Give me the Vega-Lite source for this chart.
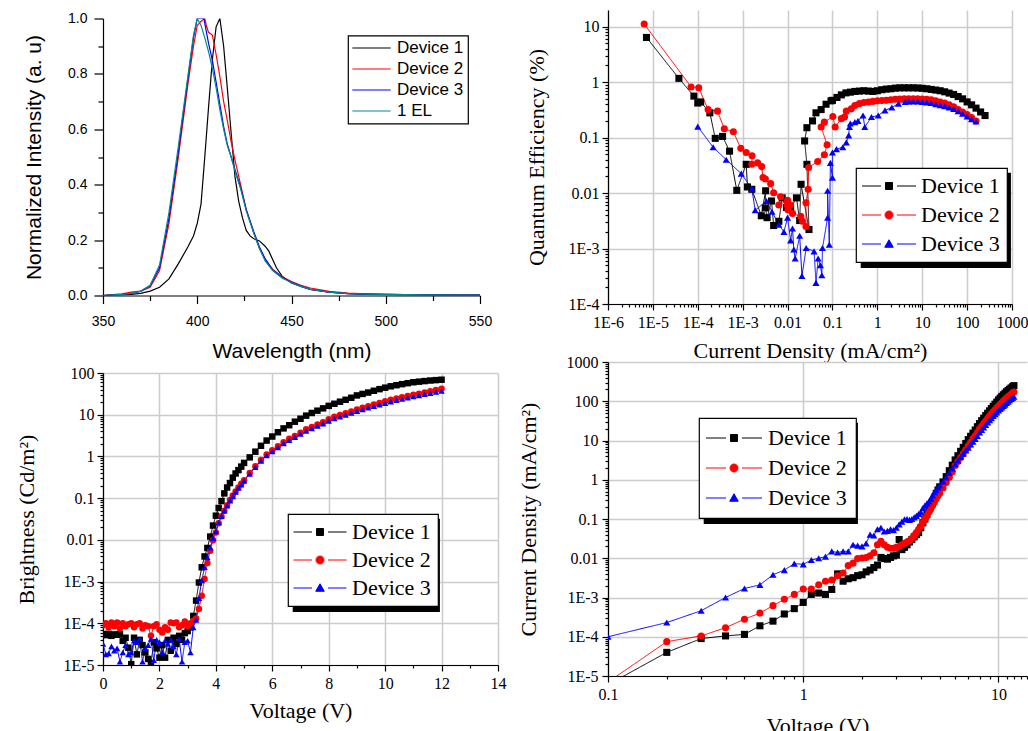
{
"$schema": "https://vega.github.io/schema/vega-lite/v6.json",
"background": "white",
"padding": {"left": 15, "top": 10, "right": 0, "bottom": 0},
"spacing": -12,
"resolve": {"scale": {"color": "independent", "strokeDash": "independent"}, "legend": {"color": "independent", "strokeDash": "independent"}},
"config": {
  "view": {"stroke": null},
  "axis": {"domainColor": "black", "tickColor": "black", "labelColor": "black", "titleColor": "black", "titleFontWeight": "normal", "gridColor": "#cccccc", "gridWidth": 1.5, "labelFlush": false, "labelOverlap": false, "labelFont": "Liberation Serif", "titleFont": "Liberation Serif", "labelFontSize": 16, "titleFontSize": 22, "domainWidth": 1.2, "tickWidth": 1.2, "titleBaseline": "middle", "titleAlign": "center"},
  "legend": {"strokeWidth": 1.2}
},
"datasets": {
"d1": [
{"s":1,"x":350,"y":0},{"s":1,"x":355,"y":0.001},{"s":1,"x":360,"y":0.002},{"s":1,"x":365,"y":0.004},{"s":1,"x":370,"y":0.008},{"s":1,"x":375,"y":0.016},{"s":1,"x":380,"y":0.03},{"s":1,"x":385,"y":0.06},{"s":1,"x":390,"y":0.115},{"s":1,"x":395,"y":0.175},{"s":1,"x":398,"y":0.215},{"s":1,"x":400,"y":0.26},{"s":1,"x":402,"y":0.33},{"s":1,"x":404,"y":0.5},{"s":1,"x":406,"y":0.68},{"s":1,"x":408,"y":0.85},{"s":1,"x":410,"y":0.97},{"s":1,"x":412,"y":1},{"s":1,"x":414,"y":0.9},{"s":1,"x":416,"y":0.745},{"s":1,"x":418,"y":0.585},{"s":1,"x":420,"y":0.43},{"s":1,"x":422,"y":0.34},{"s":1,"x":424,"y":0.28},{"s":1,"x":426,"y":0.235},{"s":1,"x":428,"y":0.215},{"s":1,"x":430,"y":0.205},{"s":1,"x":433,"y":0.197},{"s":1,"x":436,"y":0.178},{"s":1,"x":438,"y":0.16},{"s":1,"x":440,"y":0.13},{"s":1,"x":442,"y":0.1},{"s":1,"x":445,"y":0.07},{"s":1,"x":450,"y":0.045},{"s":1,"x":455,"y":0.033},{"s":1,"x":460,"y":0.022},{"s":1,"x":470,"y":0.012},{"s":1,"x":480,"y":0.007},{"s":1,"x":490,"y":0.004},{"s":1,"x":500,"y":0.003},{"s":1,"x":520,"y":0.002},{"s":1,"x":550,"y":0.001},
{"s":2,"x":350,"y":0},{"s":2,"x":355,"y":0.003},{"s":2,"x":360,"y":0.006},{"s":2,"x":365,"y":0.012},{"s":2,"x":370,"y":0.016},{"s":2,"x":375,"y":0.03},{"s":2,"x":380,"y":0.09},{"s":2,"x":385,"y":0.26},{"s":2,"x":390,"y":0.5},{"s":2,"x":395,"y":0.76},{"s":2,"x":398,"y":0.9},{"s":2,"x":400,"y":0.975},{"s":2,"x":402,"y":0.99},{"s":2,"x":404,"y":1},{"s":2,"x":405,"y":0.97},{"s":2,"x":406,"y":0.95},{"s":2,"x":408,"y":0.94},{"s":2,"x":410,"y":0.87},{"s":2,"x":412,"y":0.79},{"s":2,"x":414,"y":0.7},{"s":2,"x":416,"y":0.63},{"s":2,"x":418,"y":0.555},{"s":2,"x":420,"y":0.49},{"s":2,"x":423,"y":0.4},{"s":2,"x":426,"y":0.31},{"s":2,"x":430,"y":0.225},{"s":2,"x":433,"y":0.17},{"s":2,"x":436,"y":0.13},{"s":2,"x":440,"y":0.095},{"s":2,"x":445,"y":0.068},{"s":2,"x":450,"y":0.05},{"s":2,"x":455,"y":0.037},{"s":2,"x":460,"y":0.027},{"s":2,"x":470,"y":0.015},{"s":2,"x":480,"y":0.009},{"s":2,"x":490,"y":0.006},{"s":2,"x":500,"y":0.004},{"s":2,"x":520,"y":0.002},{"s":2,"x":550,"y":0.001},
{"s":3,"x":350,"y":0},{"s":3,"x":355,"y":0.002},{"s":3,"x":360,"y":0.004},{"s":3,"x":365,"y":0.008},{"s":3,"x":370,"y":0.015},{"s":3,"x":375,"y":0.035},{"s":3,"x":380,"y":0.1},{"s":3,"x":385,"y":0.28},{"s":3,"x":390,"y":0.52},{"s":3,"x":395,"y":0.78},{"s":3,"x":398,"y":0.93},{"s":3,"x":400,"y":1},{"s":3,"x":402,"y":1},{"s":3,"x":403.5,"y":1},{"s":3,"x":406,"y":0.91},{"s":3,"x":408,"y":0.85},{"s":3,"x":410,"y":0.77},{"s":3,"x":412,"y":0.69},{"s":3,"x":414,"y":0.61},{"s":3,"x":416,"y":0.545},{"s":3,"x":418,"y":0.5},{"s":3,"x":420,"y":0.455},{"s":3,"x":423,"y":0.39},{"s":3,"x":426,"y":0.31},{"s":3,"x":430,"y":0.23},{"s":3,"x":433,"y":0.175},{"s":3,"x":436,"y":0.133},{"s":3,"x":440,"y":0.092},{"s":3,"x":445,"y":0.065},{"s":3,"x":450,"y":0.048},{"s":3,"x":455,"y":0.034},{"s":3,"x":460,"y":0.022},{"s":3,"x":470,"y":0.012},{"s":3,"x":480,"y":0.007},{"s":3,"x":490,"y":0.005},{"s":3,"x":500,"y":0.004},{"s":3,"x":520,"y":0.002},{"s":3,"x":550,"y":0.001},
{"s":4,"x":350,"y":0},{"s":4,"x":355,"y":0.002},{"s":4,"x":360,"y":0.004},{"s":4,"x":365,"y":0.008},{"s":4,"x":370,"y":0.016},{"s":4,"x":375,"y":0.037},{"s":4,"x":380,"y":0.11},{"s":4,"x":385,"y":0.3},{"s":4,"x":390,"y":0.54},{"s":4,"x":395,"y":0.79},{"s":4,"x":398,"y":0.94},{"s":4,"x":400,"y":1},{"s":4,"x":402,"y":0.975},{"s":4,"x":404,"y":0.93},{"s":4,"x":406,"y":0.88},{"s":4,"x":408,"y":0.82},{"s":4,"x":410,"y":0.75},{"s":4,"x":412,"y":0.67},{"s":4,"x":414,"y":0.6},{"s":4,"x":416,"y":0.54},{"s":4,"x":418,"y":0.5},{"s":4,"x":420,"y":0.45},{"s":4,"x":423,"y":0.385},{"s":4,"x":426,"y":0.305},{"s":4,"x":430,"y":0.225},{"s":4,"x":433,"y":0.17},{"s":4,"x":436,"y":0.125},{"s":4,"x":440,"y":0.09},{"s":4,"x":445,"y":0.063},{"s":4,"x":450,"y":0.046},{"s":4,"x":455,"y":0.033},{"s":4,"x":460,"y":0.022},{"s":4,"x":470,"y":0.012},{"s":4,"x":480,"y":0.007},{"s":4,"x":490,"y":0.005},{"s":4,"x":500,"y":0.004},{"s":4,"x":520,"y":0.002},{"s":4,"x":550,"y":0.001}
],
"d2": [
{"s":1,"x":7.2e-6,"y":6.4},{"s":1,"x":3.8e-5,"y":1.17},{"s":1,"x":8.2e-5,"y":0.56},{"s":1,"x":1.0e-4,"y":0.42},{"s":1,"x":1.16e-4,"y":0.44},{"s":1,"x":1.86e-4,"y":0.28},{"s":1,"x":2.45e-4,"y":0.097},{"s":1,"x":3.57e-4,"y":0.105},{"s":1,"x":5.1e-4,"y":0.057},{"s":1,"x":7.4e-4,"y":0.0112},{"s":1,"x":1.2e-3,"y":0.033},{"s":1,"x":1.28e-3,"y":0.0129},{"s":1,"x":1.6e-3,"y":0.0117},{"s":1,"x":2.6e-3,"y":0.0039},{"s":1,"x":3.25e-3,"y":0.011},{"s":1,"x":3.2e-3,"y":0.0054},{"s":1,"x":3.5e-3,"y":0.0036},{"s":1,"x":4.4e-3,"y":0.0072},{"s":1,"x":4.9e-3,"y":0.0026},{"s":1,"x":6.4e-3,"y":0.0031},{"s":1,"x":7.6e-3,"y":0.0082},{"s":1,"x":0.0095,"y":0.0055},{"s":1,"x":0.0117,"y":0.0054},{"s":1,"x":0.0158,"y":0.0082},{"s":1,"x":0.0186,"y":0.0032},{"s":1,"x":0.02,"y":0.0144},{"s":1,"x":0.03,"y":0.0022},{"s":1,"x":0.027,"y":0.033},{"s":1,"x":0.024,"y":0.087},{"s":1,"x":0.027,"y":0.151},{"s":1,"x":0.036,"y":0.2},{"s":1,"x":0.043,"y":0.28},{"s":1,"x":0.056,"y":0.32},{"s":1,"x":0.072,"y":0.4},{"s":1,"x":0.093,"y":0.46},{"s":1,"x":0.1,"y":0.47},{"s":1,"x":0.126,"y":0.53},{"s":1,"x":0.158,"y":0.59},{"s":1,"x":0.2,"y":0.64},{"s":1,"x":0.251,"y":0.66},{"s":1,"x":0.316,"y":0.68},{"s":1,"x":0.398,"y":0.69},{"s":1,"x":0.501,"y":0.7},{"s":1,"x":0.631,"y":0.69},{"s":1,"x":0.794,"y":0.68},{"s":1,"x":1,"y":0.7},{"s":1,"x":1.26,"y":0.73},{"s":1,"x":1.58,"y":0.75},{"s":1,"x":2,"y":0.76},{"s":1,"x":2.51,"y":0.78},{"s":1,"x":3.16,"y":0.79},{"s":1,"x":3.98,"y":0.79},{"s":1,"x":5.01,"y":0.79},{"s":1,"x":6.31,"y":0.79},{"s":1,"x":7.94,"y":0.785},{"s":1,"x":10,"y":0.775},{"s":1,"x":12.6,"y":0.76},{"s":1,"x":15.8,"y":0.74},{"s":1,"x":20,"y":0.72},{"s":1,"x":25.1,"y":0.7},{"s":1,"x":31.6,"y":0.67},{"s":1,"x":39.8,"y":0.635},{"s":1,"x":50.1,"y":0.6},{"s":1,"x":63.1,"y":0.55},{"s":1,"x":79.4,"y":0.5},{"s":1,"x":100,"y":0.44},{"s":1,"x":126,"y":0.39},{"s":1,"x":158,"y":0.34},{"s":1,"x":200,"y":0.29},{"s":1,"x":251,"y":0.25},
{"s":2,"x":6.4e-6,"y":11.2},{"s":2,"x":7.1e-5,"y":0.82},{"s":2,"x":1.05e-4,"y":0.79},{"s":2,"x":1.7e-4,"y":0.32},{"s":2,"x":2.75e-4,"y":0.3},{"s":2,"x":3.9e-4,"y":0.144},{"s":2,"x":6.2e-4,"y":0.128},{"s":2,"x":9.1e-4,"y":0.064},{"s":2,"x":1.2e-3,"y":0.054},{"s":2,"x":1.62e-3,"y":0.047},{"s":2,"x":1.6e-3,"y":0.033},{"s":2,"x":2.15e-3,"y":0.035},{"s":2,"x":2.65e-3,"y":0.03},{"s":2,"x":2.84e-3,"y":0.019},{"s":2,"x":3.2e-3,"y":0.018},{"s":2,"x":4.2e-3,"y":0.0148},{"s":2,"x":4.9e-3,"y":0.0101},{"s":2,"x":7.0e-3,"y":0.0086},{"s":2,"x":6.4e-3,"y":0.0061},{"s":2,"x":0.01,"y":0.0074},{"s":2,"x":0.0098,"y":0.0061},{"s":2,"x":0.0102,"y":0.005},{"s":2,"x":0.0117,"y":0.0061},{"s":2,"x":0.0129,"y":0.0043},{"s":2,"x":0.0197,"y":0.0038},{"s":2,"x":0.0214,"y":0.0031},{"s":2,"x":0.0257,"y":0.0025},{"s":2,"x":0.0257,"y":0.0067},{"s":2,"x":0.0288,"y":0.0117},{"s":2,"x":0.0295,"y":0.029},{"s":2,"x":0.047,"y":0.037},{"s":2,"x":0.066,"y":0.049},{"s":2,"x":0.076,"y":0.074},{"s":2,"x":0.056,"y":0.155},{"s":2,"x":0.066,"y":0.19},{"s":2,"x":0.102,"y":0.24},{"s":2,"x":0.115,"y":0.155},{"s":2,"x":0.158,"y":0.22},{"s":2,"x":0.186,"y":0.235},{"s":2,"x":0.204,"y":0.3},{"s":2,"x":0.263,"y":0.33},{"s":2,"x":0.316,"y":0.38},{"s":2,"x":0.398,"y":0.41},{"s":2,"x":0.501,"y":0.43},{"s":2,"x":0.631,"y":0.44},{"s":2,"x":0.794,"y":0.45},{"s":2,"x":1,"y":0.46},{"s":2,"x":1.26,"y":0.465},{"s":2,"x":1.58,"y":0.47},{"s":2,"x":2,"y":0.48},{"s":2,"x":2.51,"y":0.49},{"s":2,"x":3.16,"y":0.495},{"s":2,"x":3.98,"y":0.5},{"s":2,"x":5.01,"y":0.5},{"s":2,"x":6.31,"y":0.5},{"s":2,"x":7.94,"y":0.5},{"s":2,"x":10,"y":0.495},{"s":2,"x":12.6,"y":0.49},{"s":2,"x":15.8,"y":0.48},{"s":2,"x":20,"y":0.46},{"s":2,"x":25.1,"y":0.44},{"s":2,"x":31.6,"y":0.42},{"s":2,"x":39.8,"y":0.39},{"s":2,"x":50.1,"y":0.36},{"s":2,"x":63.1,"y":0.32},{"s":2,"x":79.4,"y":0.29},{"s":2,"x":100,"y":0.26},{"s":2,"x":126,"y":0.23},{"s":2,"x":158,"y":0.2},
{"s":3,"x":1.0e-4,"y":0.158},{"s":3,"x":2.2e-4,"y":0.067},{"s":3,"x":4.3e-4,"y":0.04},{"s":3,"x":9.3e-4,"y":0.0224},{"s":3,"x":1.6e-3,"y":0.012},{"s":3,"x":1.9e-3,"y":0.0049},{"s":3,"x":3.4e-3,"y":0.0072},{"s":3,"x":4.5e-3,"y":0.0046},{"s":3,"x":6.4e-3,"y":0.0027},{"s":3,"x":8.3e-3,"y":0.002},{"s":3,"x":0.01,"y":0.0036},{"s":3,"x":0.0117,"y":0.0014},{"s":3,"x":0.0129,"y":0.0023},{"s":3,"x":0.0138,"y":0.00096},{"s":3,"x":0.0148,"y":0.00066},{"s":3,"x":0.0186,"y":0.0017},{"s":3,"x":0.0209,"y":0.00032},{"s":3,"x":0.026,"y":0.00102},{"s":3,"x":0.039,"y":0.00089},{"s":3,"x":0.043,"y":0.00024},{"s":3,"x":0.048,"y":0.00066},{"s":3,"x":0.054,"y":0.0005},{"s":3,"x":0.058,"y":0.00033},{"s":3,"x":0.06,"y":0.00102},{"s":3,"x":0.078,"y":0.0036},{"s":3,"x":0.078,"y":0.011},{"s":3,"x":0.085,"y":0.00117},{"s":3,"x":0.09,"y":0.035},{"s":3,"x":0.1,"y":0.019},{"s":3,"x":0.1,"y":0.054},{"s":3,"x":0.123,"y":0.062},{"s":3,"x":0.17,"y":0.067},{"s":3,"x":0.204,"y":0.082},{"s":3,"x":0.23,"y":0.11},{"s":3,"x":0.24,"y":0.155},{"s":3,"x":0.25,"y":0.18},{"s":3,"x":0.316,"y":0.19},{"s":3,"x":0.37,"y":0.2},{"s":3,"x":0.48,"y":0.25},{"s":3,"x":0.525,"y":0.155},{"s":3,"x":0.74,"y":0.235},{"s":3,"x":1.05,"y":0.25},{"s":3,"x":1.48,"y":0.31},{"s":3,"x":2.1,"y":0.35},{"s":3,"x":2.95,"y":0.41},{"s":3,"x":4.2,"y":0.44},{"s":3,"x":5.01,"y":0.45},{"s":3,"x":6.31,"y":0.45},{"s":3,"x":7.94,"y":0.45},{"s":3,"x":10,"y":0.44},{"s":3,"x":12.6,"y":0.43},{"s":3,"x":15.8,"y":0.42},{"s":3,"x":20,"y":0.4},{"s":3,"x":25.1,"y":0.385},{"s":3,"x":31.6,"y":0.37},{"s":3,"x":39.8,"y":0.35},{"s":3,"x":50.1,"y":0.33},{"s":3,"x":63.1,"y":0.3},{"s":3,"x":79.4,"y":0.27},{"s":3,"x":100,"y":0.24},{"s":3,"x":126,"y":0.215},{"s":3,"x":158,"y":0.195}
],
"d3": [
{"s":1,"x":0,"y":5.5e-5},{"s":1,"x":0.1,"y":5.2e-5},{"s":1,"x":0.2,"y":5.6e-5},{"s":1,"x":0.3,"y":5e-5},{"s":1,"x":0.4,"y":5.4e-5},{"s":1,"x":0.5,"y":5.3e-5},{"s":1,"x":0.6,"y":5.5e-5},{"s":1,"x":0.7,"y":3.8e-5},{"s":1,"x":0.8,"y":4.5e-5},{"s":1,"x":0.9,"y":2.6e-5},{"s":1,"x":1,"y":1.05e-5},{"s":1,"x":1.1,"y":4.5e-5},{"s":1,"x":1.2,"y":1.8e-5},{"s":1,"x":1.3,"y":4e-5},{"s":1,"x":1.4,"y":3e-5},{"s":1,"x":1.5,"y":2e-5},{"s":1,"x":1.6,"y":1.4e-5},{"s":1,"x":1.7,"y":1.1e-5},{"s":1,"x":1.8,"y":3.5e-5},{"s":1,"x":1.9,"y":2.5e-5},{"s":1,"x":2,"y":1.5e-5},{"s":1,"x":2.1,"y":3e-5},{"s":1,"x":2.2,"y":1.5e-5},{"s":1,"x":2.3,"y":4e-5},{"s":1,"x":2.4,"y":2.2e-5},{"s":1,"x":2.5,"y":4.5e-5},{"s":1,"x":2.6,"y":3.2e-5},{"s":1,"x":2.7,"y":5e-5},{"s":1,"x":2.8,"y":4e-5},{"s":1,"x":2.9,"y":5.8e-5},{"s":1,"x":3,"y":6.5e-5},{"s":1,"x":3.1,"y":8e-5},{"s":1,"x":3.2,"y":1.5e-4},{"s":1,"x":3.3,"y":3.5e-4},{"s":1,"x":3.4,"y":9.5e-4},{"s":1,"x":3.5,"y":0.0022},{"s":1,"x":3.6,"y":0.004},{"s":1,"x":3.7,"y":0.0064},{"s":1,"x":3.8,"y":0.012},{"s":1,"x":3.9,"y":0.022},{"s":1,"x":4,"y":0.038},{"s":1,"x":4.1,"y":0.058},{"s":1,"x":4.2,"y":0.085},{"s":1,"x":4.3,"y":0.13},{"s":1,"x":4.4,"y":0.18},{"s":1,"x":4.5,"y":0.23},{"s":1,"x":4.6,"y":0.31},{"s":1,"x":4.7,"y":0.39},{"s":1,"x":4.8,"y":0.47},{"s":1,"x":4.9,"y":0.57},{"s":1,"x":5,"y":0.7},{"s":1,"x":5.2,"y":0.95},{"s":1,"x":5.4,"y":1.3},{"s":1,"x":5.6,"y":1.8},{"s":1,"x":5.8,"y":2.4},{"s":1,"x":6,"y":3},{"s":1,"x":6.2,"y":3.8},{"s":1,"x":6.4,"y":4.7},{"s":1,"x":6.6,"y":5.6},{"s":1,"x":6.8,"y":6.8},{"s":1,"x":7,"y":8},{"s":1,"x":7.2,"y":9.5},{"s":1,"x":7.4,"y":11},{"s":1,"x":7.6,"y":12.5},{"s":1,"x":7.8,"y":14.2},{"s":1,"x":8,"y":16.3},{"s":1,"x":8.2,"y":18.3},{"s":1,"x":8.4,"y":20.5},{"s":1,"x":8.6,"y":22.8},{"s":1,"x":8.8,"y":25.5},{"s":1,"x":9,"y":29},{"s":1,"x":9.2,"y":31.5},{"s":1,"x":9.4,"y":34},{"s":1,"x":9.6,"y":37.5},{"s":1,"x":9.8,"y":41},{"s":1,"x":10,"y":44.5},{"s":1,"x":10.2,"y":48},{"s":1,"x":10.4,"y":51},{"s":1,"x":10.6,"y":54},{"s":1,"x":10.8,"y":57},{"s":1,"x":11,"y":60},{"s":1,"x":11.2,"y":62},{"s":1,"x":11.4,"y":64},{"s":1,"x":11.6,"y":66},{"s":1,"x":11.8,"y":67.5},{"s":1,"x":12,"y":69},
{"s":2,"x":0,"y":9e-5},{"s":2,"x":0.1,"y":1e-4},{"s":2,"x":0.2,"y":8e-5},{"s":2,"x":0.3,"y":1.05e-4},{"s":2,"x":0.4,"y":8.5e-5},{"s":2,"x":0.5,"y":1.05e-4},{"s":2,"x":0.6,"y":7.5e-5},{"s":2,"x":0.7,"y":1e-4},{"s":2,"x":0.8,"y":8.5e-5},{"s":2,"x":0.9,"y":9.5e-5},{"s":2,"x":1,"y":1e-4},{"s":2,"x":1.1,"y":8e-5},{"s":2,"x":1.2,"y":9.5e-5},{"s":2,"x":1.3,"y":1e-4},{"s":2,"x":1.4,"y":7.5e-5},{"s":2,"x":1.5,"y":9e-5},{"s":2,"x":1.6,"y":8.5e-5},{"s":2,"x":1.7,"y":5e-5},{"s":2,"x":1.8,"y":8.5e-5},{"s":2,"x":1.9,"y":9.5e-5},{"s":2,"x":2,"y":7e-5},{"s":2,"x":2.1,"y":6e-5},{"s":2,"x":2.2,"y":8e-5},{"s":2,"x":2.3,"y":7e-5},{"s":2,"x":2.4,"y":1.05e-4},{"s":2,"x":2.5,"y":1e-4},{"s":2,"x":2.6,"y":1.05e-4},{"s":2,"x":2.7,"y":8e-5},{"s":2,"x":2.8,"y":9e-5},{"s":2,"x":2.9,"y":1.1e-4},{"s":2,"x":3,"y":8.5e-5},{"s":2,"x":3.1,"y":1e-4},{"s":2,"x":3.2,"y":1.15e-4},{"s":2,"x":3.3,"y":1.3e-4},{"s":2,"x":3.4,"y":2.2e-4},{"s":2,"x":3.5,"y":4.6e-4},{"s":2,"x":3.6,"y":0.00116},{"s":2,"x":3.7,"y":0.0028},{"s":2,"x":3.8,"y":0.0055},{"s":2,"x":3.9,"y":0.0098},{"s":2,"x":4,"y":0.015},{"s":2,"x":4.1,"y":0.025},{"s":2,"x":4.2,"y":0.037},{"s":2,"x":4.3,"y":0.05},{"s":2,"x":4.4,"y":0.068},{"s":2,"x":4.5,"y":0.09},{"s":2,"x":4.6,"y":0.115},{"s":2,"x":4.7,"y":0.145},{"s":2,"x":4.8,"y":0.18},{"s":2,"x":4.9,"y":0.22},{"s":2,"x":5,"y":0.27},{"s":2,"x":5.2,"y":0.4},{"s":2,"x":5.4,"y":0.58},{"s":2,"x":5.6,"y":0.82},{"s":2,"x":5.8,"y":1.12},{"s":2,"x":6,"y":1.4},{"s":2,"x":6.2,"y":1.75},{"s":2,"x":6.4,"y":2.2},{"s":2,"x":6.6,"y":2.65},{"s":2,"x":6.8,"y":3.1},{"s":2,"x":7,"y":3.7},{"s":2,"x":7.2,"y":4.5},{"s":2,"x":7.4,"y":5.1},{"s":2,"x":7.6,"y":5.8},{"s":2,"x":7.8,"y":6.6},{"s":2,"x":8,"y":7.8},{"s":2,"x":8.2,"y":8.9},{"s":2,"x":8.4,"y":9.8},{"s":2,"x":8.6,"y":10.8},{"s":2,"x":8.8,"y":12},{"s":2,"x":9,"y":13.3},{"s":2,"x":9.2,"y":14.6},{"s":2,"x":9.4,"y":16},{"s":2,"x":9.6,"y":17.5},{"s":2,"x":9.8,"y":19.2},{"s":2,"x":10,"y":21},{"s":2,"x":10.2,"y":22.7},{"s":2,"x":10.4,"y":24.4},{"s":2,"x":10.6,"y":26.2},{"s":2,"x":10.8,"y":28},{"s":2,"x":11,"y":30},{"s":2,"x":11.2,"y":32},{"s":2,"x":11.4,"y":34},{"s":2,"x":11.6,"y":36.5},{"s":2,"x":11.8,"y":39},{"s":2,"x":12,"y":42},
{"s":3,"x":0,"y":3.2e-5},{"s":3,"x":0.1,"y":1.8e-5},{"s":3,"x":0.2,"y":1.9e-5},{"s":3,"x":0.3,"y":2.8e-5},{"s":3,"x":0.4,"y":2.2e-5},{"s":3,"x":0.5,"y":2.5e-5},{"s":3,"x":0.6,"y":1.2e-5},{"s":3,"x":0.7,"y":2e-5},{"s":3,"x":0.8,"y":3e-5},{"s":3,"x":0.9,"y":1.8e-5},{"s":3,"x":1,"y":2e-5},{"s":3,"x":1.1,"y":3.8e-5},{"s":3,"x":1.2,"y":3.5e-5},{"s":3,"x":1.3,"y":4.2e-5},{"s":3,"x":1.4,"y":1.2e-5},{"s":3,"x":1.5,"y":2.5e-5},{"s":3,"x":1.6,"y":3e-5},{"s":3,"x":1.7,"y":4.2e-5},{"s":3,"x":1.8,"y":1.3e-5},{"s":3,"x":1.9,"y":4e-5},{"s":3,"x":2,"y":3.5e-5},{"s":3,"x":2.1,"y":2e-5},{"s":3,"x":2.2,"y":3.8e-5},{"s":3,"x":2.3,"y":3.2e-5},{"s":3,"x":2.4,"y":4e-5},{"s":3,"x":2.5,"y":2.8e-5},{"s":3,"x":2.6,"y":1.8e-5},{"s":3,"x":2.7,"y":4.2e-5},{"s":3,"x":2.8,"y":1.2e-5},{"s":3,"x":2.9,"y":3.5e-5},{"s":3,"x":3,"y":3.8e-5},{"s":3,"x":3.1,"y":2e-5},{"s":3,"x":3.2,"y":8e-5},{"s":3,"x":3.3,"y":1.2e-4},{"s":3,"x":3.4,"y":4e-4},{"s":3,"x":3.5,"y":0.00106},{"s":3,"x":3.6,"y":0.0022},{"s":3,"x":3.7,"y":0.0038},{"s":3,"x":3.8,"y":0.0065},{"s":3,"x":3.9,"y":0.011},{"s":3,"x":4,"y":0.016},{"s":3,"x":4.1,"y":0.026},{"s":3,"x":4.2,"y":0.037},{"s":3,"x":4.3,"y":0.05},{"s":3,"x":4.4,"y":0.066},{"s":3,"x":4.5,"y":0.087},{"s":3,"x":4.6,"y":0.11},{"s":3,"x":4.7,"y":0.14},{"s":3,"x":4.8,"y":0.175},{"s":3,"x":4.9,"y":0.21},{"s":3,"x":5,"y":0.26},{"s":3,"x":5.2,"y":0.38},{"s":3,"x":5.4,"y":0.55},{"s":3,"x":5.6,"y":0.78},{"s":3,"x":5.8,"y":1.05},{"s":3,"x":6,"y":1.32},{"s":3,"x":6.2,"y":1.65},{"s":3,"x":6.4,"y":2.05},{"s":3,"x":6.6,"y":2.45},{"s":3,"x":6.8,"y":2.9},{"s":3,"x":7,"y":3.45},{"s":3,"x":7.2,"y":4.1},{"s":3,"x":7.4,"y":4.7},{"s":3,"x":7.6,"y":5.4},{"s":3,"x":7.8,"y":6.1},{"s":3,"x":8,"y":7.1},{"s":3,"x":8.2,"y":8.1},{"s":3,"x":8.4,"y":9},{"s":3,"x":8.6,"y":9.9},{"s":3,"x":8.8,"y":11},{"s":3,"x":9,"y":12.2},{"s":3,"x":9.2,"y":13.4},{"s":3,"x":9.4,"y":14.7},{"s":3,"x":9.6,"y":16},{"s":3,"x":9.8,"y":17.5},{"s":3,"x":10,"y":19},{"s":3,"x":10.2,"y":20.6},{"s":3,"x":10.4,"y":22.2},{"s":3,"x":10.6,"y":23.8},{"s":3,"x":10.8,"y":25.5},{"s":3,"x":11,"y":27.3},{"s":3,"x":11.2,"y":29},{"s":3,"x":11.4,"y":31},{"s":3,"x":11.6,"y":33},{"s":3,"x":11.8,"y":35},{"s":3,"x":12,"y":37}
],
"d4": [
{"s":1,"x":0.1,"y":6e-6},{"s":1,"x":0.2,"y":4e-5},{"s":1,"x":0.3,"y":9e-5},{"s":1,"x":0.4,"y":1.05e-4},{"s":1,"x":0.5,"y":1.15e-4},{"s":1,"x":0.6,"y":1.9e-4},{"s":1,"x":0.7,"y":2.5e-4},{"s":1,"x":0.8,"y":3.8e-4},{"s":1,"x":0.9,"y":5.2e-4},{"s":1,"x":1,"y":7.5e-4},{"s":1,"x":1.1,"y":1.2e-3},{"s":1,"x":1.2,"y":1.3e-3},{"s":1,"x":1.3,"y":1.2e-3},{"s":1,"x":1.4,"y":1.6e-3},{"s":1,"x":1.5,"y":4e-3},{"s":1,"x":1.6,"y":2.6e-3},{"s":1,"x":1.7,"y":3e-3},{"s":1,"x":1.8,"y":3.2e-3},{"s":1,"x":1.9,"y":3.6e-3},{"s":1,"x":2,"y":3.8e-3},{"s":1,"x":2.1,"y":4.5e-3},{"s":1,"x":2.2,"y":5e-3},{"s":1,"x":2.3,"y":5.8e-3},{"s":1,"x":2.4,"y":6.7e-3},{"s":1,"x":2.5,"y":0.0105},{"s":1,"x":2.6,"y":0.0098},{"s":1,"x":2.7,"y":0.0095},{"s":1,"x":2.8,"y":0.0105},{"s":1,"x":2.9,"y":0.0115},{"s":1,"x":3,"y":0.012},{"s":1,"x":3.1,"y":0.03},{"s":1,"x":3.2,"y":0.0166},{"s":1,"x":3.3,"y":0.019},{"s":1,"x":3.4,"y":0.022},{"s":1,"x":3.5,"y":0.026},{"s":1,"x":3.6,"y":0.03},{"s":1,"x":3.7,"y":0.035},{"s":1,"x":3.8,"y":0.04},{"s":1,"x":3.9,"y":0.045},{"s":1,"x":4,"y":0.06},{"s":1,"x":4.1,"y":0.08},{"s":1,"x":4.2,"y":0.1},{"s":1,"x":4.3,"y":0.13},{"s":1,"x":4.4,"y":0.17},{"s":1,"x":4.5,"y":0.22},{"s":1,"x":4.6,"y":0.28},{"s":1,"x":4.7,"y":0.36},{"s":1,"x":4.8,"y":0.45},{"s":1,"x":4.9,"y":0.55},{"s":1,"x":5,"y":0.66},{"s":1,"x":5.2,"y":0.88},{"s":1,"x":5.4,"y":1.2},{"s":1,"x":5.6,"y":1.7},{"s":1,"x":5.8,"y":2.35},{"s":1,"x":6,"y":3.2},{"s":1,"x":6.2,"y":4.1},{"s":1,"x":6.4,"y":5.3},{"s":1,"x":6.6,"y":6.7},{"s":1,"x":6.8,"y":8.4},{"s":1,"x":7,"y":10.5},{"s":1,"x":7.2,"y":12.8},{"s":1,"x":7.4,"y":15.4},{"s":1,"x":7.6,"y":18.5},{"s":1,"x":7.8,"y":22.5},{"s":1,"x":8,"y":27},{"s":1,"x":8.2,"y":32},{"s":1,"x":8.4,"y":37},{"s":1,"x":8.6,"y":43},{"s":1,"x":8.8,"y":49.5},{"s":1,"x":9,"y":57},{"s":1,"x":9.2,"y":65},{"s":1,"x":9.4,"y":74},{"s":1,"x":9.6,"y":84},{"s":1,"x":9.8,"y":95},{"s":1,"x":10,"y":108},{"s":1,"x":10.2,"y":120},{"s":1,"x":10.4,"y":133},{"s":1,"x":10.6,"y":146},{"s":1,"x":10.8,"y":160},{"s":1,"x":11,"y":175},{"s":1,"x":11.2,"y":189},{"s":1,"x":11.4,"y":203},{"s":1,"x":11.6,"y":218},{"s":1,"x":11.8,"y":234},{"s":1,"x":12,"y":250},
{"s":2,"x":0.1,"y":7e-6},{"s":2,"x":0.2,"y":7.5e-5},{"s":2,"x":0.3,"y":1.05e-4},{"s":2,"x":0.4,"y":1.7e-4},{"s":2,"x":0.5,"y":2.8e-4},{"s":2,"x":0.6,"y":4e-4},{"s":2,"x":0.7,"y":6.2e-4},{"s":2,"x":0.8,"y":9e-4},{"s":2,"x":0.9,"y":1.2e-3},{"s":2,"x":1,"y":1.65e-3},{"s":2,"x":1.1,"y":1.65e-3},{"s":2,"x":1.2,"y":2.1e-3},{"s":2,"x":1.3,"y":2.6e-3},{"s":2,"x":1.4,"y":2.8e-3},{"s":2,"x":1.5,"y":3.6e-3},{"s":2,"x":1.6,"y":4.2e-3},{"s":2,"x":1.7,"y":6.5e-3},{"s":2,"x":1.8,"y":7.5e-3},{"s":2,"x":1.9,"y":0.0098},{"s":2,"x":2,"y":0.0102},{"s":2,"x":2.1,"y":0.0105},{"s":2,"x":2.2,"y":0.0115},{"s":2,"x":2.3,"y":0.0138},{"s":2,"x":2.4,"y":0.022},{"s":2,"x":2.5,"y":0.027},{"s":2,"x":2.6,"y":0.022},{"s":2,"x":2.7,"y":0.019},{"s":2,"x":2.8,"y":0.018},{"s":2,"x":2.9,"y":0.018},{"s":2,"x":3,"y":0.019},{"s":2,"x":3.1,"y":0.02},{"s":2,"x":3.2,"y":0.022},{"s":2,"x":3.3,"y":0.024},{"s":2,"x":3.4,"y":0.026},{"s":2,"x":3.5,"y":0.028},{"s":2,"x":3.6,"y":0.032},{"s":2,"x":3.7,"y":0.038},{"s":2,"x":3.8,"y":0.045},{"s":2,"x":3.9,"y":0.055},{"s":2,"x":4,"y":0.065},{"s":2,"x":4.1,"y":0.08},{"s":2,"x":4.2,"y":0.1},{"s":2,"x":4.3,"y":0.12},{"s":2,"x":4.4,"y":0.15},{"s":2,"x":4.5,"y":0.18},{"s":2,"x":4.6,"y":0.22},{"s":2,"x":4.7,"y":0.27},{"s":2,"x":4.8,"y":0.33},{"s":2,"x":4.9,"y":0.39},{"s":2,"x":5,"y":0.45},{"s":2,"x":5.2,"y":0.62},{"s":2,"x":5.4,"y":0.85},{"s":2,"x":5.6,"y":1.15},{"s":2,"x":5.8,"y":1.6},{"s":2,"x":6,"y":2.3},{"s":2,"x":6.2,"y":2.9},{"s":2,"x":6.4,"y":3.7},{"s":2,"x":6.6,"y":4.6},{"s":2,"x":6.8,"y":5.8},{"s":2,"x":7,"y":7.2},{"s":2,"x":7.2,"y":9},{"s":2,"x":7.4,"y":11},{"s":2,"x":7.6,"y":13.2},{"s":2,"x":7.8,"y":16},{"s":2,"x":8,"y":19.5},{"s":2,"x":8.2,"y":23},{"s":2,"x":8.4,"y":27},{"s":2,"x":8.6,"y":31.5},{"s":2,"x":8.8,"y":36.5},{"s":2,"x":9,"y":42},{"s":2,"x":9.2,"y":48},{"s":2,"x":9.4,"y":54},{"s":2,"x":9.6,"y":61},{"s":2,"x":9.8,"y":68},{"s":2,"x":10,"y":76},{"s":2,"x":10.2,"y":84},{"s":2,"x":10.4,"y":92},{"s":2,"x":10.6,"y":101},{"s":2,"x":10.8,"y":110},{"s":2,"x":11,"y":120},{"s":2,"x":11.2,"y":130},{"s":2,"x":11.4,"y":140},{"s":2,"x":11.6,"y":151},{"s":2,"x":11.8,"y":162},{"s":2,"x":12,"y":172},
{"s":3,"x":0.1,"y":1e-4},{"s":3,"x":0.2,"y":2.3e-4},{"s":3,"x":0.3,"y":4.6e-4},{"s":3,"x":0.4,"y":1e-3},{"s":3,"x":0.5,"y":1.7e-3},{"s":3,"x":0.6,"y":2.1e-3},{"s":3,"x":0.7,"y":3.8e-3},{"s":3,"x":0.8,"y":5e-3},{"s":3,"x":0.9,"y":7.3e-3},{"s":3,"x":1,"y":7e-3},{"s":3,"x":1.1,"y":9e-3},{"s":3,"x":1.2,"y":0.01},{"s":3,"x":1.3,"y":0.011},{"s":3,"x":1.4,"y":0.015},{"s":3,"x":1.5,"y":0.014},{"s":3,"x":1.6,"y":0.015},{"s":3,"x":1.7,"y":0.015},{"s":3,"x":1.8,"y":0.022},{"s":3,"x":1.9,"y":0.021},{"s":3,"x":2,"y":0.02},{"s":3,"x":2.1,"y":0.024},{"s":3,"x":2.2,"y":0.04},{"s":3,"x":2.3,"y":0.038},{"s":3,"x":2.4,"y":0.055},{"s":3,"x":2.5,"y":0.06},{"s":3,"x":2.6,"y":0.048},{"s":3,"x":2.7,"y":0.05},{"s":3,"x":2.8,"y":0.055},{"s":3,"x":2.9,"y":0.052},{"s":3,"x":3,"y":0.06},{"s":3,"x":3.1,"y":0.073},{"s":3,"x":3.2,"y":0.085},{"s":3,"x":3.3,"y":0.098},{"s":3,"x":3.4,"y":0.1},{"s":3,"x":3.5,"y":0.095},{"s":3,"x":3.6,"y":0.1},{"s":3,"x":3.7,"y":0.11},{"s":3,"x":3.8,"y":0.12},{"s":3,"x":3.9,"y":0.135},{"s":3,"x":4,"y":0.15},{"s":3,"x":4.1,"y":0.19},{"s":3,"x":4.2,"y":0.22},{"s":3,"x":4.3,"y":0.25},{"s":3,"x":4.4,"y":0.28},{"s":3,"x":4.5,"y":0.33},{"s":3,"x":4.6,"y":0.4},{"s":3,"x":4.7,"y":0.48},{"s":3,"x":4.8,"y":0.55},{"s":3,"x":4.9,"y":0.63},{"s":3,"x":5,"y":0.72},{"s":3,"x":5.2,"y":0.9},{"s":3,"x":5.4,"y":1.15},{"s":3,"x":5.6,"y":1.5},{"s":3,"x":5.8,"y":1.95},{"s":3,"x":6,"y":2.5},{"s":3,"x":6.2,"y":3.1},{"s":3,"x":6.4,"y":3.8},{"s":3,"x":6.6,"y":4.6},{"s":3,"x":6.8,"y":5.6},{"s":3,"x":7,"y":6.6},{"s":3,"x":7.2,"y":7.9},{"s":3,"x":7.4,"y":9.3},{"s":3,"x":7.6,"y":11},{"s":3,"x":7.8,"y":13},{"s":3,"x":8,"y":16},{"s":3,"x":8.2,"y":18.5},{"s":3,"x":8.4,"y":21.5},{"s":3,"x":8.6,"y":25},{"s":3,"x":8.8,"y":29},{"s":3,"x":9,"y":33},{"s":3,"x":9.2,"y":37},{"s":3,"x":9.4,"y":42},{"s":3,"x":9.6,"y":47},{"s":3,"x":9.8,"y":52},{"s":3,"x":10,"y":58},{"s":3,"x":10.2,"y":64},{"s":3,"x":10.4,"y":70},{"s":3,"x":10.6,"y":76},{"s":3,"x":10.8,"y":82},{"s":3,"x":11,"y":90},{"s":3,"x":11.2,"y":98},{"s":3,"x":11.4,"y":106},{"s":3,"x":11.6,"y":114},{"s":3,"x":11.8,"y":122},{"s":3,"x":12,"y":130}
]
},
"vconcat": [
{
"columns": 2,
"bounds": "flush",
"align": {"row": "each", "column": "none"},
"center": {"row": true, "column": false},
"spacing": {"row": 0, "column": 128},
"resolve": {"scale": {"color": "independent", "strokeDash": "independent"}, "legend": {"color": "independent", "strokeDash": "independent"}},
"concat": [
{
  "width": 377, "height": 277,
  "data": {"name": "d1"},
  "mark": {"type": "line", "strokeWidth": 1.2, "clip": true},
  "encoding": {
    "x": {"field": "x", "type": "quantitative", "scale": {"domain": [350, 550], "nice": false},
      "axis": {"title": "Wavelength (nm)", "values": [350,375,400,425,450,475,500,525,550], "labelExpr": "datum.value % 50 == 0 ? datum.label : ''", "tickSize": {"condition": {"test": "datum.value % 50 == 0", "value": 8}, "value": 5}, "grid": false, "labelFont": "Liberation Sans", "labelFontSize": 14, "labelPadding": 11, "titleFont": "Liberation Sans", "titleFontSize": 21, "titleY": 56}},
    "y": {"field": "y", "type": "quantitative", "scale": {"domain": [0, 1], "nice": false},
      "axis": {"title": "Normalized Intensity (a. u)", "values": [0,0.1,0.2,0.3,0.4,0.5,0.6,0.7,0.8,0.9,1], "labelExpr": "round(datum.value*10) % 2 == 0 ? format(datum.value, '.1f') : ''", "tickSize": {"condition": {"test": "round(datum.value*10) % 2 == 0", "value": 9}, "value": 5}, "grid": false, "labelFont": "Liberation Sans", "labelFontSize": 14, "labelPadding": 7, "titleFont": "Liberation Sans", "titleFontSize": 21, "titleX": -69}},
    "color": {"field": "s", "type": "nominal", "scale": {"domain": [1,2,3,4], "range": ["#000000", "#ff0000", "#0000ff", "#008b8b"]},
      "legend": {"orient": "none", "legendX": 245, "legendY": 17, "title": null, "padding": 4, "rowPadding": 3, "strokeColor": "black", "fillColor": "white", "labelFont": "Liberation Sans", "labelFontSize": 17, "labelColor": "black", "symbolSize": 100, "symbolOffset": 11, "labelOffset": 17, "labelExpr": "datum.value == 4 ? '1 EL' : 'Device ' + datum.label",
        "encode": {"symbols": {"update": {"shape": {"value": "M-3.83,0H3.83"}, "stroke": {"signal": "datum.value == 1 ? '#000000' : datum.value == 2 ? '#ff0000' : datum.value == 3 ? '#0000ff' : '#008b8b'"}, "strokeWidth": {"value": 1.2}, "fill": {"value": "transparent"}, "opacity": {"value": 1}}}}}}
  }
},
{
  "width": 404, "height": 294,
  "data": {"name": "d2"},
  "encoding": {
    "x": {"field": "x", "type": "quantitative", "scale": {"type": "log", "domain": [1e-6, 1000], "nice": false},
      "axis": {"title": "Current Density (mA/cm²)", "values": [1e-6,2e-6,3e-6,4e-6,5e-6,6e-6,7e-6,8e-6,9e-6,1e-5,2e-5,3e-5,4e-5,5e-5,6e-5,7e-5,8e-5,9e-5,1e-4,2e-4,3e-4,4e-4,5e-4,6e-4,7e-4,8e-4,9e-4,0.001,0.002,0.003,0.004,0.005,0.006,0.007,0.008,0.009,0.01,0.02,0.03,0.04,0.05,0.06,0.07,0.08,0.09,0.1,0.2,0.3,0.4,0.5,0.6,0.7,0.8,0.9,1,2,3,4,5,6,7,8,9,10,20,30,40,50,60,70,80,90,100,200,300,400,500,600,700,800,900,1000],
        "labelExpr": "abs(log(datum.value)/LN10-round(log(datum.value)/LN10))<0.01 ? (datum.value < 0.005 ? '1E' + round(log(datum.value)/LN10) : format(datum.value, '')) : ''",
        "tickSize": {"condition": {"test": "abs(log(datum.value)/LN10-round(log(datum.value)/LN10))<0.01", "value": 6}, "value": 3},
        "grid": true, "gridOpacity": {"condition": {"test": "abs(log(datum.value)/LN10-round(log(datum.value)/LN10))<0.01", "value": 1}, "value": 0},
        "labelPadding": 4, "titleY": 46}},
    "y": {"field": "y", "type": "quantitative", "scale": {"type": "log", "domain": [1e-4, 20], "nice": false},
      "axis": {"title": "Quantum Efficiency (%)", "values": [1e-4,2e-4,3e-4,4e-4,5e-4,6e-4,7e-4,8e-4,9e-4,0.001,0.002,0.003,0.004,0.005,0.006,0.007,0.008,0.009,0.01,0.02,0.03,0.04,0.05,0.06,0.07,0.08,0.09,0.1,0.2,0.3,0.4,0.5,0.6,0.7,0.8,0.9,1,2,3,4,5,6,7,8,9,10],
        "labelExpr": "abs(log(datum.value)/LN10-round(log(datum.value)/LN10))<0.01 ? (datum.value < 0.005 ? '1E' + round(log(datum.value)/LN10) : format(datum.value, '')) : ''",
        "tickSize": {"condition": {"test": "abs(log(datum.value)/LN10-round(log(datum.value)/LN10))<0.01", "value": 6}, "value": 3},
        "grid": true, "gridOpacity": {"condition": {"test": "abs(log(datum.value)/LN10-round(log(datum.value)/LN10))<0.01", "value": 1}, "value": 0},
        "labelPadding": 3, "titleX": -72}}
  },
  "layer": [
    {"mark": {"type": "line", "strokeWidth": 1, "clip": true},
     "encoding": {"order": {"value": null},
      "color": {"field": "s", "type": "nominal", "scale": {"domain": [1,2,3], "range": ["#000000", "#ff0000", "#0000ff"]},
      "legend": {"orient": "none", "legendX": 248, "legendY": 158, "zindex": 2, "title": null, "padding": 7, "rowPadding": 7, "strokeColor": "black", "fillColor": "white", "labelFont": "Liberation Serif", "labelFontSize": 22, "labelColor": "black", "symbolSize": 100, "symbolOffset": 15, "labelOffset": 21, "labelExpr": "'Device ' + datum.label",
        "encode": {"symbols": {"update": {"shape": {"signal": "datum.value == 1 ? 'M-5.4,0H-1.6M1.6,0H5.4M-0.7,-0.7H0.7V0.7H-0.7Z' : datum.value == 2 ? 'M-5.4,0H-1.6M1.6,0H5.4M-0.8,0A0.8,0.8,0,1,1,0.8,0A0.8,0.8,0,1,1,-0.8,0Z' : 'M-5.4,0H-1.6M1.6,0H5.4M0,-0.85L0.85,0.65H-0.85Z'"}, "stroke": {"signal": "datum.value == 1 ? '#000000' : datum.value == 2 ? '#ff0000' : '#0000ff'"}, "fill": {"signal": "datum.value == 1 ? '#000000' : datum.value == 2 ? '#ff0000' : '#0000ff'"}, "strokeWidth": {"value": 1}, "opacity": {"value": 1}}}}}},
      "strokeDash": {"field": "s", "type": "nominal", "scale": {"domain": [3,2,1], "range": [[1,0],[1,0],[1,0]]},
      "legend": {"orient": "none", "legendX": 253, "legendY": 163, "zindex": 1, "title": null, "padding": 7, "rowPadding": 7, "strokeColor": "black", "fillColor": "black", "labelFont": "Liberation Serif", "labelFontSize": 22, "symbolOpacity": 0, "symbolSize": 100, "symbolOffset": 15, "labelOffset": 21, "labelExpr": "''",
        "encode": {"symbols": {"update": {"shape": {"value": "M-5.4,-2.2H21.8V2.2H-5.4Z"}, "opacity": {"value": 0}}}}}}}},
    {"mark": {"type": "point", "filled": true, "opacity": 1, "size": 50, "clip": true},
     "encoding": {
       "color": {"condition": [{"test": "datum.s == 1", "value": "#000000"}, {"test": "datum.s == 2", "value": "#ff0000"}], "value": "#0000ff"},
       "shape": {"condition": [{"test": "datum.s == 1", "value": "square"}, {"test": "datum.s == 2", "value": "circle"}], "value": "triangle-up"}}}
  ]
}
]
},
{
"columns": 2,
"bounds": "flush",
"align": {"row": "each", "column": "none"},
"center": {"row": true, "column": false},
"spacing": {"row": 0, "column": 110},
"resolve": {"scale": {"color": "independent", "strokeDash": "independent"}, "legend": {"color": "independent", "strokeDash": "independent"}},
"concat": [
{
  "width": 395, "height": 292,
  "data": {"name": "d3"},
  "encoding": {
    "x": {"field": "x", "type": "quantitative", "scale": {"domain": [0, 14], "nice": false},
      "axis": {"title": "Voltage (V)", "values": [0,1,2,3,4,5,6,7,8,9,10,11,12,13,14], "labelExpr": "datum.value % 2 == 0 ? datum.label : ''",
        "tickSize": {"condition": {"test": "datum.value % 2 == 0", "value": 6}, "value": 3},
        "grid": true, "gridOpacity": {"condition": {"test": "datum.value % 2 == 0", "value": 1}, "value": 0},
        "labelPadding": 4, "titleY": 45}},
    "y": {"field": "y", "type": "quantitative", "scale": {"type": "log", "domain": [1e-5, 100], "nice": false},
      "axis": {"title": "Brightness (Cd/m²)", "values": [1e-5,2e-5,3e-5,4e-5,5e-5,6e-5,7e-5,8e-5,9e-5,1e-4,2e-4,3e-4,4e-4,5e-4,6e-4,7e-4,8e-4,9e-4,0.001,0.002,0.003,0.004,0.005,0.006,0.007,0.008,0.009,0.01,0.02,0.03,0.04,0.05,0.06,0.07,0.08,0.09,0.1,0.2,0.3,0.4,0.5,0.6,0.7,0.8,0.9,1,2,3,4,5,6,7,8,9,10,20,30,40,50,60,70,80,90,100],
        "labelExpr": "abs(log(datum.value)/LN10-round(log(datum.value)/LN10))<0.01 ? (datum.value < 0.005 ? '1E' + round(log(datum.value)/LN10) : format(datum.value, '')) : ''",
        "tickSize": {"condition": {"test": "abs(log(datum.value)/LN10-round(log(datum.value)/LN10))<0.01", "value": 6}, "value": 3},
        "grid": true, "gridOpacity": {"condition": {"test": "abs(log(datum.value)/LN10-round(log(datum.value)/LN10))<0.01", "value": 1}, "value": 0},
        "labelPadding": 3, "titleX": -77}}
  },
  "layer": [
    {"mark": {"type": "line", "strokeWidth": 1, "clip": true},
     "encoding": {
      "color": {"field": "s", "type": "nominal", "scale": {"domain": [1,2,3], "range": ["#000000", "#ff0000", "#0000ff"]},
      "legend": {"orient": "none", "legendX": 185, "legendY": 141, "zindex": 2, "title": null, "padding": 7, "rowPadding": 6, "strokeColor": "black", "fillColor": "white", "labelFont": "Liberation Serif", "labelFontSize": 22, "labelColor": "black", "symbolSize": 100, "symbolOffset": 14, "labelOffset": 21, "labelExpr": "'Device ' + datum.label",
        "encode": {"symbols": {"update": {"shape": {"signal": "datum.value == 1 ? 'M-5.3,0H-1.6M1.6,0H5.3M-0.7,-0.7H0.7V0.7H-0.7Z' : datum.value == 2 ? 'M-5.3,0H-1.6M1.6,0H5.3M-0.8,0A0.8,0.8,0,1,1,0.8,0A0.8,0.8,0,1,1,-0.8,0Z' : 'M-5.3,0H-1.6M1.6,0H5.3M0,-0.85L0.85,0.65H-0.85Z'"}, "stroke": {"signal": "datum.value == 1 ? '#000000' : datum.value == 2 ? '#ff0000' : '#0000ff'"}, "fill": {"signal": "datum.value == 1 ? '#000000' : datum.value == 2 ? '#ff0000' : '#0000ff'"}, "strokeWidth": {"value": 1}, "opacity": {"value": 1}}}}}},
      "strokeDash": {"field": "s", "type": "nominal", "scale": {"domain": [3,2,1], "range": [[1,0],[1,0],[1,0]]},
      "legend": {"orient": "none", "legendX": 190, "legendY": 146, "zindex": 1, "title": null, "padding": 7, "rowPadding": 6, "strokeColor": "black", "fillColor": "black", "labelFont": "Liberation Serif", "labelFontSize": 22, "symbolOpacity": 0, "symbolSize": 100, "symbolOffset": 14, "labelOffset": 21, "labelExpr": "''",
        "encode": {"symbols": {"update": {"shape": {"value": "M-5.3,-2.2H21.4V2.2H-5.3Z"}, "opacity": {"value": 0}}}}}}}},
    {"mark": {"type": "point", "filled": true, "opacity": 1, "size": 42, "clip": true},
     "encoding": {
       "color": {"condition": [{"test": "datum.s == 1", "value": "#000000"}, {"test": "datum.s == 2", "value": "#ff0000"}], "value": "#0000ff"},
       "shape": {"condition": [{"test": "datum.s == 1", "value": "square"}, {"test": "datum.s == 2", "value": "circle"}], "value": "triangle-up"}}}
  ]
},
{
  "width": 419, "height": 314,
  "data": {"name": "d4"},
  "encoding": {
    "x": {"field": "x", "type": "quantitative", "scale": {"type": "log", "domain": [0.1, 14], "nice": false},
      "axis": {"title": "Voltage (V)", "values": [0.1,0.2,0.3,0.4,0.5,0.6,0.7,0.8,0.9,1,2,3,4,5,6,7,8,9,10,11,12,13,14],
        "labelExpr": "abs(log(datum.value)/LN10-round(log(datum.value)/LN10))<0.01 ? format(datum.value, '') : ''",
        "tickSize": {"condition": {"test": "abs(log(datum.value)/LN10-round(log(datum.value)/LN10))<0.01", "value": 6}, "value": 3},
        "grid": true, "gridOpacity": {"condition": {"test": "abs(log(datum.value)/LN10-round(log(datum.value)/LN10))<0.01", "value": 1}, "value": 0},
        "labelPadding": 4, "titleY": 49}},
    "y": {"field": "y", "type": "quantitative", "scale": {"type": "log", "domain": [1e-5, 1000], "nice": false},
      "axis": {"title": "Current Density (mA/cm²)", "values": [1e-5,2e-5,3e-5,4e-5,5e-5,6e-5,7e-5,8e-5,9e-5,1e-4,2e-4,3e-4,4e-4,5e-4,6e-4,7e-4,8e-4,9e-4,0.001,0.002,0.003,0.004,0.005,0.006,0.007,0.008,0.009,0.01,0.02,0.03,0.04,0.05,0.06,0.07,0.08,0.09,0.1,0.2,0.3,0.4,0.5,0.6,0.7,0.8,0.9,1,2,3,4,5,6,7,8,9,10,20,30,40,50,60,70,80,90,100,200,300,400,500,600,700,800,900,1000],
        "labelExpr": "abs(log(datum.value)/LN10-round(log(datum.value)/LN10))<0.01 ? (datum.value < 0.005 ? '1E' + round(log(datum.value)/LN10) : format(datum.value, '')) : ''",
        "tickSize": {"condition": {"test": "abs(log(datum.value)/LN10-round(log(datum.value)/LN10))<0.01", "value": 6}, "value": 3},
        "grid": true, "gridOpacity": {"condition": {"test": "abs(log(datum.value)/LN10-round(log(datum.value)/LN10))<0.01", "value": 1}, "value": 0},
        "labelPadding": 4, "titleX": -80}}
  },
  "layer": [
    {"mark": {"type": "line", "strokeWidth": 1, "clip": true},
     "encoding": {
      "color": {"field": "s", "type": "nominal", "scale": {"domain": [1,2,3], "range": ["#000000", "#ff0000", "#0000ff"]},
      "legend": {"orient": "none", "legendX": 91, "legendY": 56, "zindex": 2, "title": null, "padding": 9, "rowPadding": 8, "strokeColor": "black", "fillColor": "white", "labelFont": "Liberation Serif", "labelFontSize": 22, "labelColor": "black", "symbolSize": 100, "symbolOffset": 15, "labelOffset": 23, "labelExpr": "'Device ' + datum.label",
        "encode": {"symbols": {"update": {"shape": {"signal": "datum.value == 1 ? 'M-5.6,0H-1.6M1.6,0H5.6M-0.7,-0.7H0.7V0.7H-0.7Z' : datum.value == 2 ? 'M-5.6,0H-1.6M1.6,0H5.6M-0.8,0A0.8,0.8,0,1,1,0.8,0A0.8,0.8,0,1,1,-0.8,0Z' : 'M-5.6,0H-1.6M1.6,0H5.6M0,-0.85L0.85,0.65H-0.85Z'"}, "stroke": {"signal": "datum.value == 1 ? '#000000' : datum.value == 2 ? '#ff0000' : '#0000ff'"}, "fill": {"signal": "datum.value == 1 ? '#000000' : datum.value == 2 ? '#ff0000' : '#0000ff'"}, "strokeWidth": {"value": 1}, "opacity": {"value": 1}}}}}},
      "strokeDash": {"field": "s", "type": "nominal", "scale": {"domain": [3,2,1], "range": [[1,0],[1,0],[1,0]]},
      "legend": {"orient": "none", "legendX": 96, "legendY": 61, "zindex": 1, "title": null, "padding": 9, "rowPadding": 8, "strokeColor": "black", "fillColor": "black", "labelFont": "Liberation Serif", "labelFontSize": 22, "symbolOpacity": 0, "symbolSize": 100, "symbolOffset": 15, "labelOffset": 23, "labelExpr": "''",
        "encode": {"symbols": {"update": {"shape": {"value": "M-5.6,-2.2H21.8V2.2H-5.6Z"}, "opacity": {"value": 0}}}}}}}},
    {"mark": {"type": "point", "filled": true, "opacity": 1, "size": 50, "clip": true},
     "encoding": {
       "color": {"condition": [{"test": "datum.s == 1", "value": "#000000"}, {"test": "datum.s == 2", "value": "#ff0000"}], "value": "#0000ff"},
       "shape": {"condition": [{"test": "datum.s == 1", "value": "square"}, {"test": "datum.s == 2", "value": "circle"}], "value": "triangle-up"}}}
  ]
}
]
}
]
}
